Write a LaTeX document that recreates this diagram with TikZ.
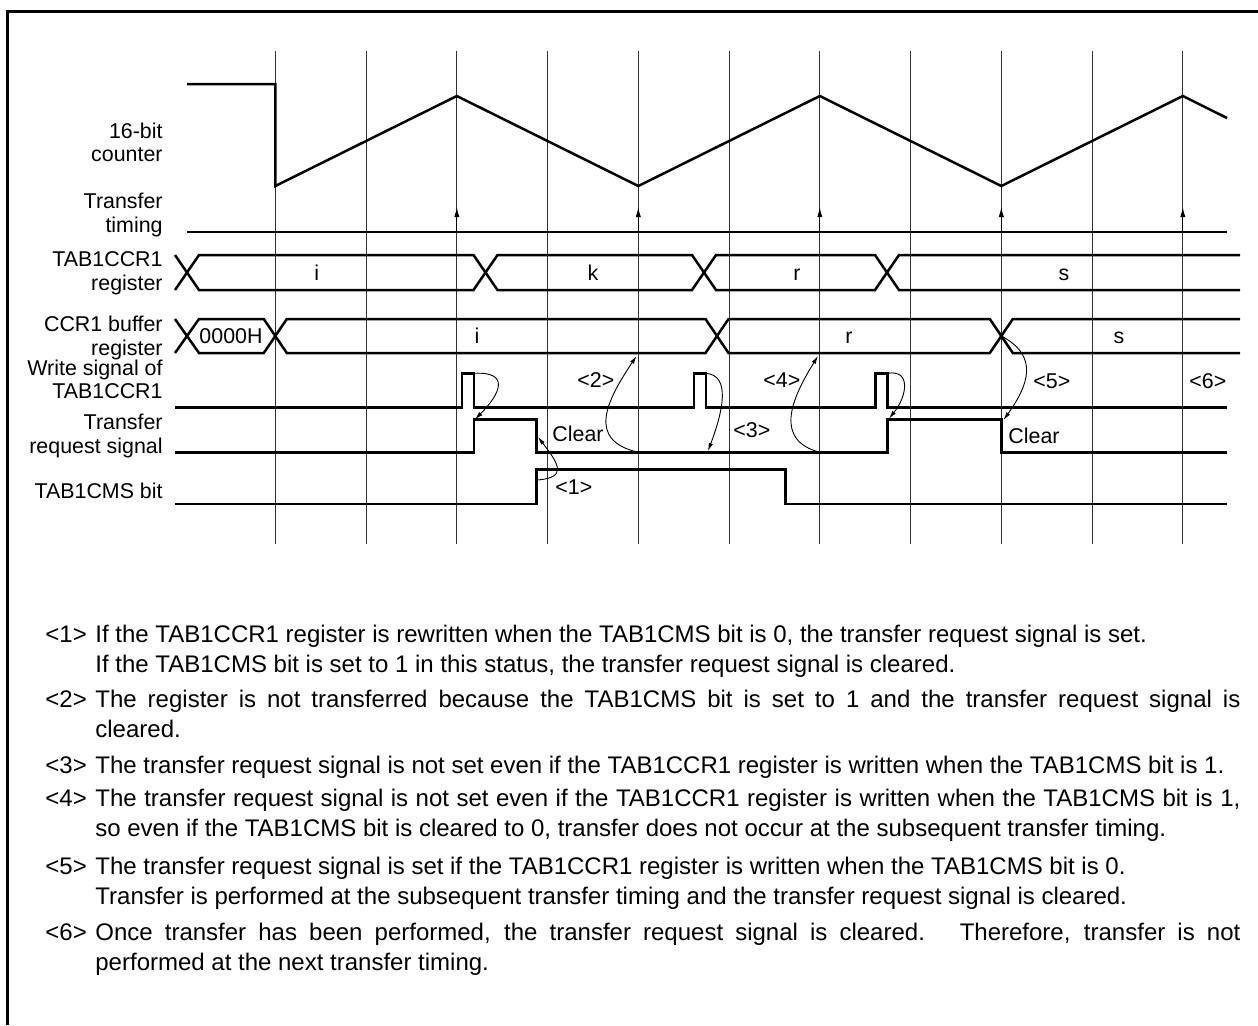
\documentclass[tikz,border=0pt]{standalone}
\usepackage{fontspec}
\setmainfont{Liberation Sans}
\usetikzlibrary{arrows.meta, positioning}
\tikzset{
    % Text styles
    rowlabel/.style={
        anchor=base east,
        align=right,
        inner sep=0pt,
        font=\fontsize{10.7}{11.6}\selectfont
    },
    buslabel/.style={
        anchor=base,
        inner sep=0pt,
        font=\fontsize{10.7}{11.6}\selectfont
    },
    steplabel/.style={
        anchor=base west,
        inner sep=0pt,
        font=\fontsize{10.7}{11.6}\selectfont
    },
    notelabel/.style={
        anchor=base west,
        inner sep=0pt,
        font=\fontsize{12}{15.25}\selectfont
    },
    notetext/.style={
        anchor=base west,
        inner sep=0pt,
        text width=572.5pt,
        align=justify,
        font=\fontsize{12}{15.25}\selectfont
    },
    % Line styles
    outerframe/.style={
        line width=1.5pt
    },
    gridline/.style={
        line width=0.5pt,
        draw=black!80
    },
    wave/.style={
        line width=1.25pt,
        line join=miter
    },
    timingarrow/.style={
        -{Latex[length=5pt,width=2.6pt]},
        line width=0.5pt
    },
    callout/.style={
        -{Latex[length=4pt,width=2.2pt]},
        line width=0.45pt
    }
}

\begin{document}
\begin{tikzpicture}[x=0.5pt, y=-0.5pt]
    \useasboundingbox (0,0) rectangle (1258,1025);

    % frame
    \draw[outerframe] (7,1025) -- (7,11.5) -- (1258,11.5);

    % timing grid
    \foreach \k in {0,...,10}
        \draw[gridline] ({275.3+90.75*\k},51) -- ({275.3+90.75*\k},544);

    % row labels (placed at the baseline of the last line)
    \node[rowlabel] (lctr) at (163,161.7) {16-bit\\counter};
    \node[rowlabel] (ltim) at (163,232) {Transfer\\timing};
    \node[rowlabel] (lreg) at (163,290) {TAB1CCR1\\register};
    \node[rowlabel] (lbuf) at (163,355) {CCR1 buffer\\register};
    \node[rowlabel] (lwr) at (163,398.7) {Write signal of\\TAB1CCR1};
    \node[rowlabel] (lreq) at (163,453) {Transfer\\request signal};
    \node[rowlabel] (lcms) at (163,498.3) {TAB1CMS bit};

    % 16-bit counter
    \draw[wave] (187,84) -- (275.3,84) -- (275.3,186) -- (456.8,96) -- (638.3,186)
        -- (819.8,96) -- (1001.3,186) -- (1182.8,96) -- (1227,118);

    % transfer timing
    \draw[wave] (187,232) -- (1227,232);
    \foreach \k in {2,4,6,8,10}
        \draw[timingarrow] ({275.3+90.75*\k},232) -- ({275.3+90.75*\k},207);

    % TAB1CCR1 register
    \draw[wave] (175,255) -- (187,272.5) -- (175,290);
    \draw[wave] (187,272.5) -- (199,255) -- (473.5,255) -- (485.5,272.5) -- (473.5,290) -- (199,290) -- cycle;
    \draw[wave] (485.5,272.5) -- (497.5,255) -- (692,255) -- (704,272.5) -- (692,290) -- (497.5,290) -- cycle;
    \draw[wave] (704,272.5) -- (716,255) -- (875,255) -- (887,272.5) -- (875,290) -- (716,290) -- cycle;
    \draw[wave] (1240,255) -- (899,255) -- (887,272.5) -- (899,290) -- (1240,290);
    \node[buslabel] (regi) at (316.7,280) {i};
    \node[buslabel] (regk) at (593,280) {k};
    \node[buslabel] (regr) at (797,280) {r};
    \node[buslabel] (regs) at (1064,280) {s};

    % CCR1 buffer register
    \draw[wave] (175,319) -- (187,336) -- (175,353);
    \draw[wave] (187,336) -- (199,319) -- (263.8,319) -- (275.3,336) -- (263.8,353) -- (199,353) -- cycle;
    \draw[wave] (275.3,336) -- (286.8,319) -- (705.5,319) -- (717,336) -- (705.5,353) -- (286.8,353) -- cycle;
    \draw[wave] (717,336) -- (728.5,319) -- (989.8,319) -- (1001.3,336) -- (989.8,353) -- (728.5,353) -- cycle;
    \draw[wave] (1240,319) -- (1012.8,319) -- (1001.3,336) -- (1012.8,353) -- (1240,353);
    \node[buslabel] (buf0) at (231,343.5) {0000H};
    \node[buslabel] (bufi) at (477,343.5) {i};
    \node[buslabel] (bufr) at (849,343.5) {r};
    \node[buslabel] (bufs) at (1119,343.5) {s};

    % write signal of TAB1CCR1
    \draw[wave] (175,407.7) -- (462,407.7) -- (462,373.3) -- (474,373.3) -- (474,407.7)
        -- (694,407.7) -- (694,373.3) -- (706,373.3) -- (706,407.7)
        -- (875.5,407.7) -- (875.5,373.3) -- (887.5,373.3) -- (887.5,407.7) -- (1227,407.7);

    % transfer request signal
    \draw[wave] (175,452.3) -- (474,452.3) -- (474,419.3) -- (536.7,419.3) -- (536.7,452.3)
        -- (887.5,452.3) -- (887.5,419.3) -- (1001.3,419.3) -- (1001.3,452.3) -- (1227,452.3);

    % TAB1CMS bit
    \draw[wave] (175,504) -- (536.7,504) -- (536.7,469.5) -- (785.7,469.5) -- (785.7,504) -- (1227,504);

    % step labels
    \node[steplabel] (clr1) at (552,441.7) {Clear};
    \node[steplabel] (clr2) at (1008,443) {Clear};
    \node[steplabel] (s1) at (555,494) {<1>};
    \node[steplabel] (s2) at (577,387) {<2>};
    \node[steplabel] (s3) at (733,437) {<3>};
    \node[steplabel] (s4) at (763,387) {<4>};
    \node[steplabel] (s5) at (1033,388) {<5>};
    \node[steplabel] (s6) at (1189,388) {<6>};

    % callout end points
    \coordinate (wr1) at (474,373.3);
    \coordinate (req1) at (475,419.3);
    \coordinate (cms1) at (536.7,480);
    \coordinate (fall1) at (538,437);
    \coordinate (req2) at (638.3,452.3);
    \coordinate (buf2) at (636.5,356);
    \coordinate (wr2) at (706,373.3);
    \coordinate (req3) at (708,451);
    \coordinate (req4) at (819.8,452.3);
    \coordinate (buf4) at (818,356);
    \coordinate (wr3) at (887.5,373.3);
    \coordinate (req5) at (889,418.5);
    \coordinate (buf5) at (1001.3,336);
    \coordinate (fall5) at (1003.5,420);

    % callouts
    \draw[callout] (wr1) .. controls +(36,-2) and +(26,-26) .. (req1);
    \draw[callout] (cms1) .. controls +(32,-2) and +(20,26) .. (fall1);
    \draw[callout] (req2) .. controls +(-52,-12) and +(-30,45) .. (buf2);
    \draw[callout] (wr2) .. controls +(25,2) and +(15,-40) .. (req3);
    \draw[callout] (req4) .. controls +(-45,-12) and +(-28,45) .. (buf4);
    \draw[callout] (wr3) .. controls +(24,-4) and +(18,-22) .. (req5);
    \draw[callout] (buf5) .. controls +(38,20) and +(25,-35) .. (fall5);

    % notes
    \node[notelabel] (n1) at (45,642) {<1>};
    \node[notetext] (t1) at (95,642) {If the TAB1CCR1 register is rewritten when the TAB1CMS bit is 0, the transfer request signal is set.\\If the TAB1CMS bit is set to 1 in this status, the transfer request signal is cleared.};
    \node[notelabel] (n2) at (45,707) {<2>};
    \node[notetext] (t2) at (95,707) {The register is not transferred because the TAB1CMS bit is set to 1 and the transfer request signal is\linebreak cleared.};
    \node[notelabel] (n3) at (45,773) {<3>};
    \node[notetext] (t3) at (95,773) {The transfer request signal is not set even if the TAB1CCR1 register is written when the TAB1CMS bit is 1.};
    \node[notelabel] (n4) at (45,806) {<4>};
    \node[notetext] (t4) at (95,806) {The transfer request signal is not set even if the TAB1CCR1 register is written when the TAB1CMS bit is 1,\linebreak so even if the TAB1CMS bit is cleared to 0, transfer does not occur at the subsequent transfer timing.};
    \node[notelabel] (n5) at (45,874) {<5>};
    \node[notetext] (t5) at (95,874) {The transfer request signal is set if the TAB1CCR1 register is written when the TAB1CMS bit is 0.\\Transfer is performed at the subsequent transfer timing and the transfer request signal is cleared.};
    \node[notelabel] (n6) at (45,940) {<6>};
    \node[notetext] (t6) at (95,940) {Once transfer has been performed, the transfer request signal is cleared.\hspace{0.4em} Therefore, transfer is not\linebreak performed at the next transfer timing.};
\end{tikzpicture}
\end{document}
